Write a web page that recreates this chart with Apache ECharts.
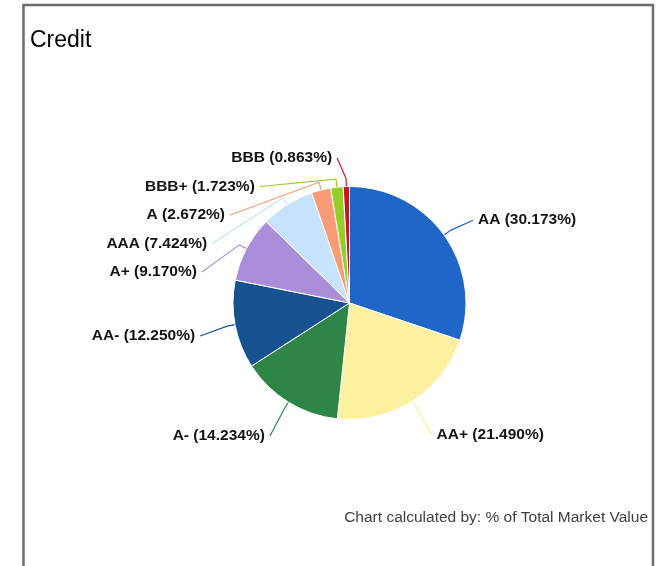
<!DOCTYPE html>
<html>
<head>
<meta charset="utf-8">
<script src="https://cdn.jsdelivr.net/npm/echarts@6/dist/echarts.min.js"></script>
<style>
  html, body { margin: 0; padding: 0; background: #ffffff; }
  #chart { width: 660px; height: 566px; }
</style>
</head>
<body>
<div id="chart"></div>
<script>
// Credit rating breakdown (% of total market value)
const ratings = ['AA', 'AA+', 'A-', 'AA-', 'A+', 'AAA', 'A', 'BBB+', 'BBB'];
const shares = [30.173, 21.490, 14.234, 12.250, 9.170, 7.424, 2.672, 1.723, 0.863];
const sliceColors = ['#1f66c6', '#fdf0a0', '#2e8646', '#165290', '#a98fda', '#c6e3fb', '#fa9b78', '#96cd28', '#c81428'];

// pie geometry
const CX = 349.5, CY = 303, R = 116.5;
// ring on which the data labels sit
const RING_CX = 349.5, RING_CY = 308, RING_RX = 152, RING_RY = 150.5;
const ROW = 28.5, TOP_LIMIT = 158;

// mid angle of each slice, clockwise from 12 o'clock
const total = shares.reduce((a, b) => a + b, 0);
let acc = 0;
const midAngles = shares.map(v => {
  const m = (acc + v / 2) / total * 2 * Math.PI;
  acc += v;
  return m;
});
const sides = midAngles.map(a => (Math.sin(a) >= 0 ? 1 : -1));

// spread the labels of each side so they do not overlap
const labelY = [];
[1, -1].forEach(side => {
  const items = midAngles
    .map((a, i) => ({ i, y: RING_CY - RING_RY * Math.cos(a) }))
    .filter(o => sides[o.i] === side)
    .sort((a, b) => a.y - b.y);
  let prev = -Infinity;
  items.forEach(o => {
    const y = Math.max(o.y, prev + ROW, TOP_LIMIT);
    labelY[o.i] = y;
    prev = y;
  });
});

function ringX(y, side) {
  const t = Math.min(1, Math.abs(y - RING_CY) / RING_RY);
  return RING_CX + side * RING_RX * Math.sqrt(1 - t * t);
}

const chart = echarts.init(document.getElementById('chart'), null, { renderer: 'canvas' });

chart.setOption({
  animation: false,
  backgroundColor: '#ffffff',
  title: {
    text: 'Credit',
    left: 25,
    top: 24,
    textStyle: { fontFamily: 'Liberation Sans, Arial, sans-serif', fontSize: 23, fontWeight: 'normal', color: '#000000' }
  },
  graphic: [
    {
      type: 'rect',
      silent: true,
      shape: { x: 23.5, y: 5, width: 629.5, height: 700 },
      style: { fill: 'none', stroke: '#6b6b6b', lineWidth: 2.5 }
    },
    {
      type: 'text',
      silent: true,
      style: {
        x: 648, y: 518,
        text: 'Chart calculated by: % of Total Market Value',
        align: 'right', verticalAlign: 'middle',
        fontFamily: 'Liberation Sans, Arial, sans-serif', fontSize: 15.5,
        fill: '#404040'
      }
    }
  ],
  series: [{
    type: 'pie',
    center: [CX, CY],
    radius: R,
    startAngle: 90,
    clockwise: true,
    data: ratings.map((name, i) => ({
      name,
      value: shares[i],
      itemStyle: { color: sliceColors[i] }
    })),
    itemStyle: { borderColor: '#ffffff', borderWidth: 1 },
    emphasis: { disabled: true },
    label: {
      show: true,
      position: 'outside',
      formatter: p => p.name + ' (' + p.value.toFixed(3) + '%)',
      fontFamily: 'Liberation Sans, Arial, sans-serif',
      fontSize: 15.5,
      fontWeight: 'bold',
      color: '#141414'
    },
    labelLine: {
      show: true,
      length: 8,
      length2: 10,
      lineStyle: { width: 1.2 }
    },
    labelLayout: function (p) {
      const i = p.dataIndex;
      const a = midAngles[i], side = sides[i];
      const y = labelY[i];
      const xe = ringX(y, side);
      const edge = [CX + R * Math.sin(a), CY - R * Math.cos(a)];
      const bend = [CX + (R + 8) * Math.sin(a), CY - (R + 8) * Math.cos(a)];
      return {
        x: xe + side * 5,
        y: y,
        align: side > 0 ? 'left' : 'right',
        verticalAlign: 'middle',
        labelLinePoints: [edge, bend, [xe, y]]
      };
    }
  }]
});
</script>
</body>
</html>
